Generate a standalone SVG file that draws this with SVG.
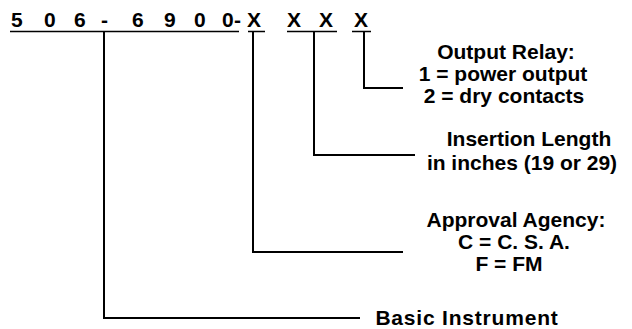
<svg xmlns="http://www.w3.org/2000/svg" width="632" height="329" viewBox="0 0 632 329">
<style>
.t{font-family:"Liberation Sans",Arial,Helvetica,sans-serif;font-weight:bold;fill:#000}
.lbl{font-size:21px;text-anchor:middle}
.code{font-size:21px}
.ln{stroke:#000;stroke-width:2;fill:none}
.ul{stroke:#000;stroke-width:1.5;fill:none}
</style>
<rect width="632" height="329" fill="#fff"/>
<g id="part-number">
<text class="t code" y="27" x="11 44 74 101 132 164 194 222 234 247">506-6900-X</text>
<text class="t code" y="27" x="287">X</text>
<text class="t code" y="27" x="319">X</text>
<text class="t code" y="27" x="354">X</text>
<path class="ul" d="M10 31.5H239M248 31.5H265M287 31.5H337M352 31.5H371"/>
</g>
<g id="connectors">
<path class="ln" d="M364 32V88H403"/>
<path class="ln" d="M314 32V155H415"/>
<path class="ln" d="M253 32V252H403"/>
<path class="ln" d="M104 32V318H360"/>
</g>
<g id="output-relay">
<text class="t lbl" x="506" y="59">Output Relay:</text>
<text class="t lbl" x="503" y="81">1 = power output</text>
<text class="t lbl" x="504" y="103">2 = dry contacts</text>
</g>
<g id="insertion-length">
<text class="t lbl" x="529" y="146">Insertion Length</text>
<text class="t lbl" x="522" y="170">in inches (19 or 29)</text>
</g>
<g id="approval-agency">
<text class="t lbl" x="516" y="227">Approval Agency:</text>
<text class="t lbl" x="514" y="249">C = C. S. A.</text>
<text class="t lbl" x="509" y="271">F = FM</text>
</g>
<g id="basic-instrument">
<text class="t lbl" x="467" y="325" letter-spacing="0.8">Basic Instrument</text>
</g>
</svg>
